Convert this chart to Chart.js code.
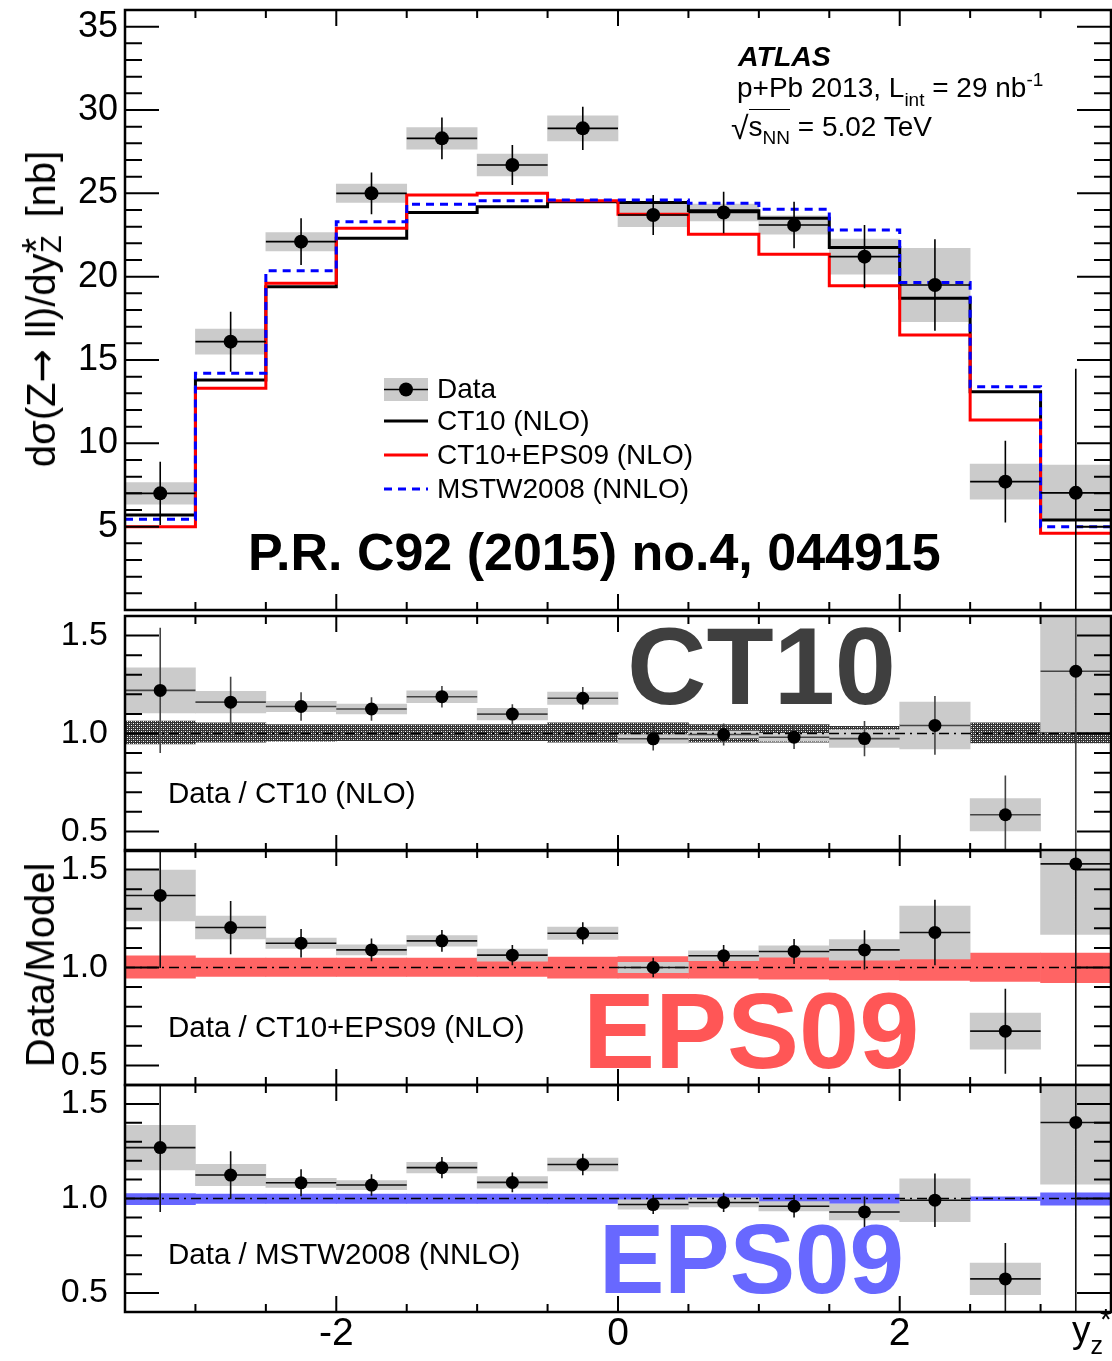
<!DOCTYPE html>
<html lang="en">
<head>
<meta charset="utf-8">
<title>Z → ll cross section, p+Pb 5.02 TeV</title>
<script src="https://cdn.jsdelivr.net/npm/chart.js@4.4.1/dist/chart.umd.min.js"></script>
<style>
  body { margin: 0; background: #fff; }
  #page { position: relative; width: 1112px; height: 1361px; overflow: hidden;
          font-family: 'Liberation Sans', Arial, Helvetica, sans-serif; }
  #page canvas { position: absolute; left: 0; }
  .t { position: absolute; line-height: 1; white-space: nowrap; color: #000; }
  .rot { transform: translate(-50%, -50%) rotate(-90deg); }
  .stack { display: inline-block; position: relative; width: 0.62em; }
  .stack .up { position: absolute; left: 0; top: -0.12em; }
  .stack .dn { position: absolute; left: 0.02em; top: 0.55em; font-size: 0.72em; }
  .arrow { font-family: 'DejaVu Sans', sans-serif; }
</style>
</head>
<body>
<div id="page">
  <canvas id="mainPanel" width="1112" height="620" style="top:0px"></canvas>
  <canvas id="ct10Panel" width="1112" height="255" style="top:606px"></canvas>
  <canvas id="eps09Panel" width="1112" height="255" style="top:840px"></canvas>
  <canvas id="mstwPanel" width="1112" height="286" style="top:1075px"></canvas>

  <!-- axis titles -->
  <div class="t rot" style="left:41px; top:309px; font-size:40px;">dσ(Z<span class="arrow">→</span> ll)/dy<span class="stack"><span class="up">*</span><span class="dn">Z</span>&nbsp;</span> [nb]</div>
  <div class="t rot" style="left:40px; top:965px; font-size:40px;">Data/Model</div>
  <div class="t" style="left:1072px; top:1311px; font-size:37px;">y<span style="font-size:25px; position:relative; top:12px;">z</span><span style="font-size:30px; position:relative; top:-13px; left:-3px;">*</span></div>

  <!-- experiment label -->
  <div class="t" style="left:738px; top:42px; font-size:28.5px; font-weight:bold; font-style:italic;">ATLAS</div>
  <div class="t" style="left:737px; top:74px; font-size:28px;">p+Pb 2013, L<span style="font-size:19px; position:relative; top:9px;">int</span> = 29 nb<span style="font-size:19px; position:relative; top:-11px;">-1</span></div>
  <div class="t" style="left:731px; top:109px; font-size:28px;"><span style="font-size:32px; position:relative; top:3px;">√</span><span style="border-top:1.5px solid #000; padding-top:1px;">s<span style="font-size:19px; position:relative; top:8px;">NN</span></span> = 5.02 TeV</div>

  <!-- legend samples -->
  <svg style="position:absolute; left:380px; top:370px;" width="60" height="130">
    <rect x="4" y="8" width="44" height="23" fill="#cbcbcb"/>
    <line x1="4" x2="48" y1="19.5" y2="19.5" stroke="#000" stroke-width="1.6"/>
    <circle cx="26" cy="19.5" r="7" fill="#000"/>
    <line x1="4" x2="48" y1="51" y2="51" stroke="#000" stroke-width="3"/>
    <line x1="4" x2="48" y1="85" y2="85" stroke="#f00" stroke-width="3"/>
    <line x1="4" x2="48" y1="119" y2="119" stroke="#00f" stroke-width="3" stroke-dasharray="8 6"/>
  </svg>
  <div class="t" style="left:437px; top:375px; font-size:28px;">Data</div>
  <div class="t" style="left:437px; top:407px; font-size:28px;">CT10 (NLO)</div>
  <div class="t" style="left:437px; top:441px; font-size:28px;">CT10+EPS09 (NLO)</div>
  <div class="t" style="left:437px; top:475px; font-size:28px;">MSTW2008 (NNLO)</div>

  <div class="t" style="left:248px; top:526px; font-size:52px; font-weight:bold;">P.R. C92 (2015) no.4, 044915</div>

  <!-- ratio panel labels -->
  <div class="t" style="left:168px; top:778px; font-size:29.5px;">Data / CT10 (NLO)</div>
  <div class="t" style="left:168px; top:1012px; font-size:29.5px;">Data / CT10+EPS09 (NLO)</div>
  <div class="t" style="left:168px; top:1239px; font-size:29.5px;">Data / MSTW2008 (NNLO)</div>

  <div class="t" style="left:627px; top:611px; font-size:110px; font-weight:bold; color:#3f3f3f;">CT10</div>
  <div class="t" style="left:583px; top:977px; font-size:108px; font-weight:bold; color:#ff5656;">EPS09</div>
  <div class="t" style="left:599px; top:1210px; font-size:98px; font-weight:bold; color:#6868ff;">EPS09</div>
</div>

<script>
// rapidity bins y_Z*
const binEdges = [-3.5, -3, -2.5, -2, -1.5, -1, -0.5, 0, 0.5, 1, 1.5, 2, 2.5, 3, 3.5];
const binCenters = [-3.25, -2.75, -2.25, -1.75, -1.25, -0.75, -0.25, 0.25, 0.75, 1.25, 1.75, 2.25, 2.75, 3.25];

// measured dσ/dy_Z* [nb] with stat and syst errors
const dataXsec = [7.0, 16.1, 22.1, 25.0, 28.3, 26.7, 28.9, 23.7, 23.85, 23.1, 21.2, 19.5, 7.7, 7.03];
const dataStat = [1.9, 1.8, 1.4, 1.25, 1.25, 1.2, 1.3, 1.2, 1.25, 1.4, 1.9, 2.75, 2.45, 7.44];
const dataSyst = [0.65, 0.75, 0.55, 0.55, 0.65, 0.65, 0.75, 0.7, 0.5, 0.55, 1.05, 2.2, 1.05, 1.66];

// model predictions [nb]
const ct10 = [5.7, 13.8, 19.4, 22.3, 23.85, 24.2, 24.5, 24.45, 23.95, 23.5, 21.75, 18.7, 13.1, 5.4];
const ct10eps09 = [5.0, 13.3, 19.6, 22.9, 24.9, 25.0, 24.55, 23.75, 22.55, 21.35, 19.45, 16.5, 11.4, 4.6];
const mstw = [5.45, 14.2, 20.35, 23.3, 24.35, 24.55, 24.6, 24.6, 24.4, 24.05, 22.8, 19.65, 13.4, 5.0];

// data / CT10
const ratioCT10 = [1.22, 1.16, 1.138, 1.125, 1.188, 1.099, 1.18, 0.973, 0.995, 0.981, 0.974, 1.041, 0.585, 1.318];
const ratioCT10Stat = [0.32, 0.13, 0.073, 0.06, 0.055, 0.05, 0.057, 0.06, 0.056, 0.06, 0.09, 0.15, 0.2, 1.39];
const ratioCT10Syst = [0.115, 0.055, 0.026, 0.025, 0.03, 0.03, 0.031, 0.022, 0.017, 0.02, 0.045, 0.12, 0.083, 0.31];
const ct10BandHi = [1.063, 1.054, 1.046, 1.046, 1.046, 1.046, 1.054, 1.054, 1.046, 1.046, 1.037, 1.046, 1.054, 1.054];
const ct10BandLo = [0.947, 0.956, 0.961, 0.964, 0.964, 0.964, 0.956, 0.956, 0.956, 0.956, 0.96, 0.96, 0.952, 0.952];

// data / CT10+EPS09
const ratioEPS09 = [1.368, 1.204, 1.124, 1.09, 1.136, 1.063, 1.175, 1.0, 1.06, 1.082, 1.09, 1.179, 0.675, 1.529];
const ratioEPS09Stat = [0.37, 0.136, 0.073, 0.058, 0.055, 0.052, 0.056, 0.05, 0.055, 0.064, 0.1, 0.167, 0.217, 1.45];
const ratioEPS09Syst = [0.13, 0.058, 0.026, 0.026, 0.027, 0.031, 0.031, 0.026, 0.025, 0.029, 0.053, 0.135, 0.092, 0.36];
const eps09BandHi = [1.06, 1.048, 1.048, 1.048, 1.048, 1.048, 1.053, 1.056, 1.053, 1.056, 1.053, 1.048, 1.073, 1.073];
const eps09BandLo = [0.945, 0.954, 0.954, 0.954, 0.954, 0.954, 0.945, 0.946, 0.946, 0.94, 0.937, 0.934, 0.929, 0.923];

// data / MSTW2008
const ratioMSTW = [1.269, 1.124, 1.083, 1.071, 1.163, 1.085, 1.18, 0.968, 0.979, 0.959, 0.929, 0.991, 0.575, 1.402];
const ratioMSTWStat = [0.34, 0.126, 0.071, 0.057, 0.056, 0.052, 0.057, 0.05, 0.051, 0.059, 0.081, 0.141, 0.19, 1.48];
const ratioMSTWSyst = [0.118, 0.056, 0.024, 0.024, 0.028, 0.031, 0.034, 0.025, 0.024, 0.025, 0.042, 0.113, 0.083, 0.326];
const mstwBandHi = [1.026, 1.023, 1.023, 1.023, 1.023, 1.023, 1.023, 1.023, 1.023, 1.023, 1.023, 1.015, 1.009, 1.03];
const mstwBandLo = [0.968, 0.974, 0.974, 0.974, 0.974, 0.974, 0.974, 0.974, 0.974, 0.974, 0.974, 0.985, 0.988, 0.965];

// axis labels
const xTickValues = [-2, 0, 2];
const xsecTickValues = [5, 10, 15, 20, 25, 30, 35];
const ratioTickValues = [0.5, 1.0, 1.5];
const unityLine = [-3.5, 3.5];

Chart.defaults.font.family = "'Liberation Sans', Arial, Helvetica, sans-serif";
Chart.defaults.color = '#000';

// ROOT-like frame: box around the plot and inward ticks on all four sides
const frameTicks = {
    id: 'frameTicks',
    afterDraw(chart, args, opts) {
        const { ctx, chartArea: a, scales: { x, y } } = chart;
        const marks = (scale, step, majorStep, fn) => {
            const n = Math.round((scale.max - scale.min) / step);
            for (let i = 0; i <= n; i++) {
                const v = scale.min + i * step;
                const q = v / majorStep;
                fn(scale.getPixelForValue(v), Math.abs(q - Math.round(q)) < 1e-6);
            }
        };
        ctx.save();
        ctx.strokeStyle = '#000';
        ctx.lineWidth = 2;
        ctx.beginPath();
        marks(x, 0.5, 2, (px, major) => {
            const len = major ? 16 : 8;
            ctx.moveTo(px, a.bottom); ctx.lineTo(px, a.bottom - len);
            ctx.moveTo(px, a.top); ctx.lineTo(px, a.top + len);
        });
        marks(y, opts.yMinor, opts.yMajor, (py, major) => {
            const len = major ? 34 : 17;
            ctx.moveTo(a.left, py); ctx.lineTo(a.left + len, py);
            ctx.moveTo(a.right, py); ctx.lineTo(a.right - len, py);
        });
        ctx.stroke();
        ctx.lineWidth = 2.5;
        ctx.strokeRect(a.left, a.top, a.right - a.left, a.bottom - a.top);
        ctx.restore();
    }
};
Chart.register(frameTicks);

// dark cross-hatch used for the CT10 uncertainty band
function hatchPattern() {
    const c = document.createElement('canvas');
    c.width = 4; c.height = 4;
    const g = c.getContext('2d');
    g.fillStyle = '#333'; g.fillRect(0, 0, 4, 4);
    g.fillStyle = '#fff'; g.fillRect(1, 1, 1, 1); g.fillRect(3, 3, 1, 1);
    g.fillStyle = '#9a9a9a'; g.fillRect(3, 1, 1, 1); g.fillRect(1, 3, 1, 1);
    return g.createPattern(c, 'repeat');
}

// step histogram: one point per left edge, last value repeated at the right edge
function histPoints(values) {
    return binEdges.map((e, i) => ({ x: e, y: values[Math.min(i, values.length - 1)] }));
}
function rangePoints(lo, hi) {
    return binCenters.map((c, i) => ({ x: c, y: [lo[i], hi[i]] }));
}
function boxPoints(values, errs) {
    return binCenters.map((c, i) => ({ x: c, y: [values[i] - errs[i], values[i] + errs[i]] }));
}
// vertical stat error + horizontal bin-width bar, separated by gaps
function errorPoints(values, errs) {
    const pts = [];
    binCenters.forEach((c, i) => {
        pts.push({ x: c, y: values[i] - errs[i] }, { x: c, y: values[i] + errs[i] }, { x: c, y: null });
        pts.push({ x: binEdges[i], y: values[i] }, { x: binEdges[i + 1], y: values[i] }, { x: binEdges[i + 1], y: null });
    });
    return pts;
}
function markerPoints(values) {
    return binCenters.map((c, i) => ({ x: c, y: values[i] }));
}

const barSet = (data, color, order) => ({
    type: 'bar', data, backgroundColor: color, borderWidth: 0,
    grouped: false, barPercentage: 1, categoryPercentage: 1, order
});
const lineSet = (data, color, width, order, extra) => Object.assign({
    type: 'line', data, borderColor: color, borderWidth: width, pointRadius: 0,
    fill: false, spanGaps: false, tension: 0, order
}, extra || {});
const markerSet = (data, r) => ({
    type: 'line', data, showLine: false, pointRadius: r, pointBackgroundColor: '#000',
    pointBorderWidth: 0, order: 0
});

function panelOptions(p) {
    return {
        responsive: false,
        animation: false,
        events: [],
        layout: { autoPadding: false, padding: { top: p.padTop, bottom: p.padBottom, left: 0, right: 1 } },
        plugins: {
            legend: { display: false },
            tooltip: { enabled: false },
            frameTicks: { yMinor: p.yMinor, yMajor: p.yMajor }
        },
        scales: {
            x: {
                type: 'linear', min: -3.5, max: 3.5, offset: false, display: p.showX,
                grid: { display: false, drawTicks: false }, border: { display: false },
                ticks: { font: { size: 39 }, color: '#000', padding: -1, maxRotation: 0, autoSkip: false },
                afterBuildTicks: s => { s.ticks = xTickValues.map(v => ({ value: v })); },
                afterFit: s => { s.height = p.showX ? 49 : 0; s.paddingLeft = 0; s.paddingRight = 0; }
            },
            y: {
                type: 'linear', min: p.yMin, max: p.yMax,
                grid: { display: false, drawTicks: false }, border: { display: false },
                ticks: { font: { size: p.yFont }, color: '#000', padding: p.yPad, autoSkip: false, callback: p.yFmt },
                afterBuildTicks: s => { s.ticks = p.yTicks.map(v => ({ value: v })); },
                afterFit: s => { s.width = 125; s.paddingTop = 0; s.paddingBottom = 0; }
            }
        }
    };
}

// upper panel: cross section with the three predictions
new Chart(document.getElementById('mainPanel'), {
    type: 'line',
    data: {
        datasets: [
            barSet(boxPoints(dataXsec, dataSyst), '#cbcbcb', 9),
            lineSet(histPoints(ct10), '#000', 3, 6, { stepped: true }),
            lineSet(histPoints(ct10eps09), '#f00', 3, 5, { stepped: true }),
            lineSet(histPoints(mstw), '#00f', 3, 4, { stepped: true, borderDash: [8, 6] }),
            lineSet(errorPoints(dataXsec, dataStat), '#000', 1.6, 2),
            markerSet(markerPoints(dataXsec), 7)
        ]
    },
    options: panelOptions({
        padTop: 10, padBottom: 10, showX: false, yMin: 0, yMax: 36,
        yTicks: xsecTickValues, yFont: 36, yPad: 7, yMinor: 1, yMajor: 5,
        yFmt: v => String(v)
    })
});

// ratio panels
function ratioPanel(id, ratio, stat, syst, bandLo, bandHi, bandColor, errColor, last) {
    new Chart(document.getElementById(id), {
        type: 'line',
        data: {
            datasets: [
                barSet(rangePoints(bandLo, bandHi), bandColor, 10),
                barSet(boxPoints(ratio, syst), '#cbcbcb', 9),
                lineSet(unityLine.map(x => ({ x, y: 1 })), '#000', 1.5, 7, { borderDash: [10, 5, 2, 5] }),
                lineSet(errorPoints(ratio, stat), errColor, 1.6, 2),
                markerSet(markerPoints(ratio), 6.5)
            ]
        },
        options: panelOptions({
            padTop: 10, padBottom: last ? 0 : 10, showX: last, yMin: 0.4, yMax: 1.6,
            yTicks: ratioTickValues, yFont: 34, yPad: 17, yMinor: 0.1, yMajor: 0.5,
            yFmt: v => v.toFixed(1)
        })
    });
}

ratioPanel('ct10Panel', ratioCT10, ratioCT10Stat, ratioCT10Syst, ct10BandLo, ct10BandHi, hatchPattern(), '#444', false);
ratioPanel('eps09Panel', ratioEPS09, ratioEPS09Stat, ratioEPS09Syst, eps09BandLo, eps09BandHi, '#ff6464', '#111', false);
ratioPanel('mstwPanel', ratioMSTW, ratioMSTWStat, ratioMSTWSyst, mstwBandLo, mstwBandHi, '#6666ff', '#111', true);
</script>
</body>
</html>
